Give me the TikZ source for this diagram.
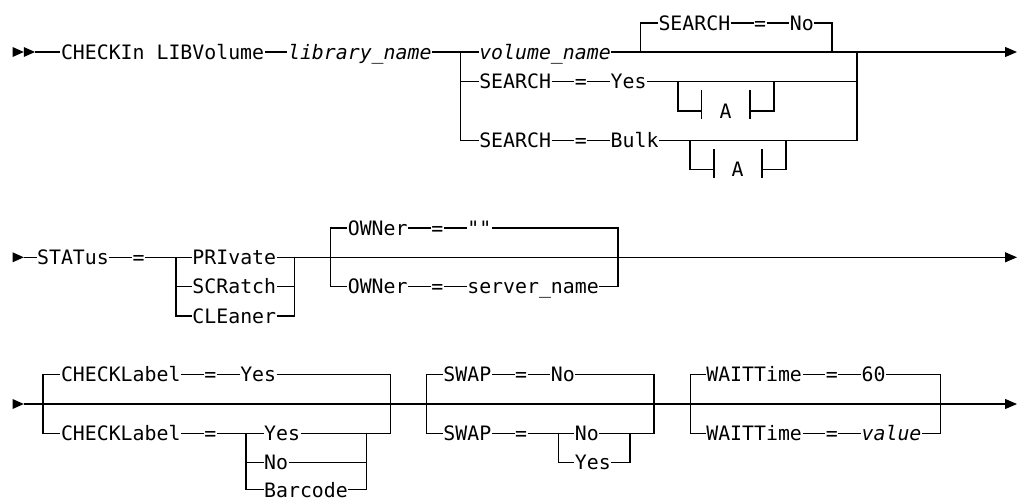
\documentclass[tikz,border=0pt]{standalone}
\usepackage{fontspec}
\newfontfamily\dm{DejaVu Sans Mono}
\usetikzlibrary{arrows.meta}
\newcommand\dmf{\dm\fontsize{19.85}{24}\selectfont}
\newcommand\kx[1]{12.6+#1*11.95}
\tikzset{
  t/.style={inner sep=0pt, text height=14.5pt, text depth=0pt, anchor=west, font=\dmf},
  it/.style={t, font=\dmf\itshape},
  ac/.style={t, anchor=center},
  tipend/.style={-{Triangle[length=12pt,width=10pt]}},
}
\begin{document}
\begin{tikzpicture}[x=1pt,y=-1pt,line width=1.2pt]
\fill[white] (0,0) rectangle (1019,498);
\useasboundingbox (0,0) rectangle (1019,498);

% ---------------- line 1 ----------------
\fill (12.6,47) -- (23.8,52) -- (12.6,57) -- cycle;
\fill (23.8,47) -- (35,52) -- (23.8,57) -- cycle;
\coordinate (s1) at (35,52);
\node[t] (chk) at ({\kx{4}},52) {CHECKIn LIBVolume};
\node[it] (lib) at ({\kx{23}},52) {library\_name};
\coordinate (j1) at (460.7,52);
\node[it] (vol) at ({\kx{39}},52) {volume\_name};
\coordinate (d0l) at (640.5,52);
\coordinate (d0r) at (832,52);
\node[t] (s0) at ({\kx{54}},23) {SEARCH};
\node[t] (e0) at ({\kx{62}},23) {=};
\node[t] (no0) at ({\kx{65}},23) {No};
\node[t] (sy) at ({\kx{39}},81.7) {SEARCH};
\node[t] (ey) at ({\kx{47}},81.7) {=};
\node[t] (yes1) at ({\kx{50}},81.7) {Yes};
\node[t] (sb) at ({\kx{39}},140.3) {SEARCH};
\node[t] (eb) at ({\kx{47}},140.3) {=};
\node[t] (bulk) at ({\kx{50}},140.3) {Bulk};
\coordinate (o1) at (857,52);
\coordinate (end1) at (1017,52);

\draw (s1) -- (chk.west);
\draw (chk.east) -- (lib.west);
\draw (lib.east) -- (j1) -- (vol.west);
\draw (j1) |- (sb.west);
\draw (j1 |- sy) -- (sy.west);
\draw[tipend] (vol.east) -- (end1);
\draw (d0l) |- (s0.west);
\draw (s0.east) -- (e0.west);
\draw (e0.east) -- (no0.west);
\draw (no0.east) -| (d0r);
\draw (sy.east) -- (ey.west);
\draw (ey.east) -- (yes1.west);
\draw (yes1.east) -- (o1 |- yes1);
\draw (sb.east) -- (eb.west);
\draw (eb.east) -- (bulk.west);
\draw (bulk.east) -| (o1);

% A box 1
\coordinate (a1l) at (678,81.7);
\coordinate (a1t) at (701.5,111);
\node[ac] (A1) at (725.5,111) {A};
\coordinate (a1u) at (750,111);
\coordinate (a1r) at (774,81.7);
\draw (a1l) |- (a1t);
\draw ([yshift=-8pt]a1t) -- ([yshift=21pt]a1t);
\draw ([yshift=-8pt]a1u) -- ([yshift=21pt]a1u);
\draw (a1u) -| (a1r);

% A box 2
\coordinate (a2l) at (690,140.3);
\coordinate (a2t) at (714,169.7);
\node[ac] (A2) at (737.5,169.7) {A};
\coordinate (a2u) at (762,169.7);
\coordinate (a2r) at (786,140.3);
\draw (a2l) |- (a2t);
\draw ([yshift=-8pt]a2t) -- ([yshift=21pt]a2t);
\draw ([yshift=-8pt]a2u) -- ([yshift=21pt]a2u);
\draw (a2u) -| (a2r);

% ---------------- line 2 ----------------
\fill (12.6,252.3) -- (23.8,257.3) -- (12.6,262.3) -- cycle;
\coordinate (s2) at (23.8,257.3);
\node[t] (stat) at ({\kx{2}},257.3) {STATus};
\node[t] (eq2) at ({\kx{10}},257.3) {=};
\coordinate (j2) at (176,257.3);
\node[t] (pri) at ({\kx{15}},257.3) {PRIvate};
\node[t] (scr) at ({\kx{15}},286.7) {SCRatch};
\node[t] (cle) at ({\kx{15}},316) {CLEaner};
\coordinate (r2) at (294.5,257.3);
\coordinate (ogl) at (330.5,257.3);
\node[t] (ow1) at ({\kx{28}},228) {OWNer};
\node[t] (oe1) at ({\kx{35}},228) {=};
\node[it] (q1) at ({\kx{38}},228) {""};
\node[t] (ow2) at ({\kx{28}},286.7) {OWNer};
\node[t] (oe2) at ({\kx{35}},286.7) {=};
\node[t] (sn) at ({\kx{38}},286.7) {server\_name};
\coordinate (ogr) at (618,257.3);
\coordinate (end2) at (1017,257.3);

\draw (s2) -- (stat.west);
\draw (stat.east) -- (eq2.west);
\draw (eq2.east) -- (j2) -- (pri.west);
\draw (j2) |- (cle.west);
\draw (j2 |- scr) -- (scr.west);
\draw (scr.east) -- (r2 |- scr);
\draw (cle.east) -| (r2);
\draw[tipend] (pri.east) -- (end2);
\draw (ogl) |- (ow1.west);
\draw (ogl) |- (ow2.west);
\draw (ow1.east) -- (oe1.west);
\draw (oe1.east) -- (q1.west);
\draw (q1.east) -| (ogr);
\draw (ow2.east) -- (oe2.west);
\draw (oe2.east) -- (sn.west);
\draw (sn.east) -| (ogr);

% ---------------- line 3 ----------------
\fill (12.6,399) -- (23.8,404) -- (12.6,409) -- cycle;
\coordinate (s3) at (23.8,404);
\coordinate (end3) at (1017,404);
\draw[tipend] (s3) -- (end3);

% CHECKLabel
\coordinate (cl) at (43,404);
\node[t] (ck1) at ({\kx{4}},374.7) {CHECKLabel};
\node[t] (ce1) at ({\kx{16}},374.7) {=};
\node[t] (cy1) at ({\kx{19}},374.7) {Yes};
\node[t] (ck2) at ({\kx{4}},433.3) {CHECKLabel};
\node[t] (ce2) at ({\kx{16}},433.3) {=};
\coordinate (cj) at (246,433.3);
\node[t] (cy2) at ({\kx{21}},433.3) {Yes};
\node[t] (cn2) at ({\kx{21}},462.2) {No};
\node[t] (cb2) at ({\kx{21}},489.8) {Barcode};
\coordinate (cr) at (366.5,433.3);
\coordinate (clr) at (390.5,404);
\draw (cl) |- (ck1.west);
\draw (cl) |- (ck2.west);
\draw (ck1.east) -- (ce1.west);
\draw (ce1.east) -- (cy1.west);
\draw (cy1.east) -| (clr);
\draw (ck2.east) -- (ce2.west);
\draw (ce2.east) -- (cj) -- (cy2.west);
\draw (cj) |- (cb2.west);
\draw (cj |- cn2) -- (cn2.west);
\draw (cy2.east) -- (cr);
\draw (cn2.east) -- (cr |- cn2);
\draw (cb2.east) -| (cr);
\draw (cr) -| (clr);

% SWAP
\coordinate (sl) at (426.5,404);
\node[t] (sw1) at ({\kx{36}},374.7) {SWAP};
\node[t] (se1) at ({\kx{42}},374.7) {=};
\node[t] (sn1) at ({\kx{45}},374.7) {No};
\node[t] (sw2) at ({\kx{36}},433.3) {SWAP};
\node[t] (se2) at ({\kx{42}},433.3) {=};
\coordinate (sj) at (558.5,433.3);
\node[t] (sn2) at ({\kx{47}},433.3) {No};
\node[t] (sy2) at ({\kx{47}},462.2) {Yes};
\coordinate (sr) at (630,433.3);
\coordinate (slr) at (654,404);
\draw (sl) |- (sw1.west);
\draw (sl) |- (sw2.west);
\draw (sw1.east) -- (se1.west);
\draw (se1.east) -- (sn1.west);
\draw (sn1.east) -| (slr);
\draw (sw2.east) -- (se2.west);
\draw (se2.east) -- (sj) -- (sn2.west);
\draw (sj) |- (sy2.west);
\draw (sn2.east) -- (sr);
\draw (sy2.east) -| (sr);
\draw (sr) -| (slr);

% WAITTime
\coordinate (wl) at (690.7,404);
\node[t] (wt1) at ({\kx{58}},374.7) {WAITTime};
\node[t] (we1) at ({\kx{68}},374.7) {=};
\node[t] (w60) at ({\kx{71}},374.7) {60};
\node[t] (wt2) at ({\kx{58}},433.3) {WAITTime};
\node[t] (we2) at ({\kx{68}},433.3) {=};
\node[it] (wv) at ({\kx{71}},433.3) {value};
\coordinate (wr) at (940.7,404);
\draw (wl) |- (wt1.west);
\draw (wl) |- (wt2.west);
\draw (wt1.east) -- (we1.west);
\draw (we1.east) -- (w60.west);
\draw (w60.east) -| (wr);
\draw (wt2.east) -- (we2.west);
\draw (we2.east) -- (wv.west);
\draw (wv.east) -| (wr);
\end{tikzpicture}
\end{document}
